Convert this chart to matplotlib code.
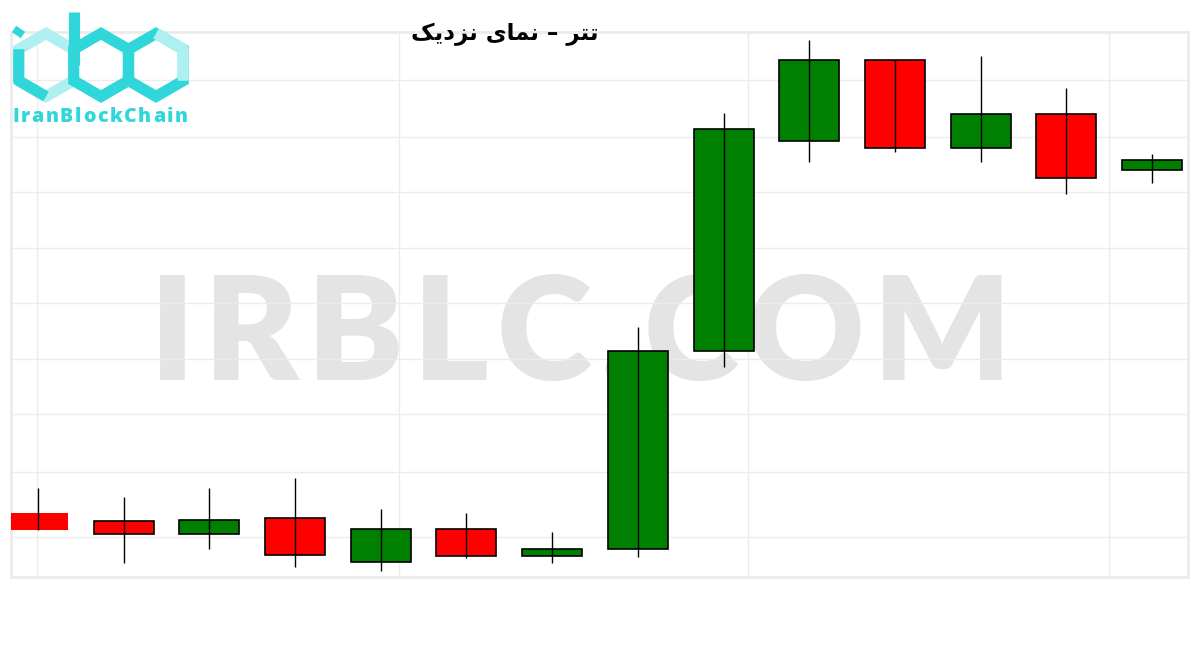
import numpy as np
import matplotlib.pyplot as plt
from matplotlib.patches import Polygon

# candle data (arbitrary price units)
opens  = [64, 56, 43, 59, 15, 48, 21, 28, 226, 436, 517, 429, 463, 407]
highs  = [89, 80, 89, 99, 68, 64, 45, 250, 464, 537, 517, 521, 489, 423]
lows   = [47, 14, 28, 10, 6, 19, 14, 20, 210, 415, 425, 415, 383, 394]
closes = [47, 43, 57, 22, 48, 21, 28, 226, 448, 517, 429, 463, 399, 417]

# grid positions
ygrid = [497, 440, 385, 329, 274, 218, 163, 105, 40]
xgrid = [-0.01, 4.21, 8.28, 12.5]

# title is Persian: "تتر – نمای نزدیک", written in presentation forms and
# visual order because matplotlib does no arabic shaping
title = "\uFB8F\uFBFE\uFEA9\uFEB0\uFEE7 \uFBFC\uFE8E\uFEE4\uFEE7 \u2013 \uFEAE\uFE98\uFE97"

CYAN = '#30d7da'
LIGHT = '#aeeff1'

fig = plt.figure(figsize=(12, 6.5), dpi=100)
ax = fig.add_axes([11/1200, 73/650, 1177/1200, 545/650])

# overlay in pixel coords for logo / watermark
lg = fig.add_axes([0, 0, 1, 1], zorder=10)
lg.set_xlim(0, 1200)
lg.set_ylim(650, 0)
lg.axis('off')

x = np.arange(len(opens))
o = np.array(opens)
c = np.array(closes)
up = c >= o
cols = np.where(up, '#008000', '#ff0000')

ax.vlines(x, lows, highs, color='black', lw=1, zorder=4)
bars = ax.bar(x, np.abs(c - o), bottom=np.minimum(o, c), width=0.7,
              color=cols, edgecolor='black', linewidth=1.2, zorder=3)
bars[0].set_linewidth(0)

ax.set_xlim(-0.315, 13.42)
ax.set_ylim(0, 545)
ax.set_yticks(ygrid)
ax.set_xticks(xgrid)
ax.set_axisbelow(True)
ax.grid(True, color='#ececec', lw=1)
ax.tick_params(length=0, labelleft=False, labelbottom=False)
for s in ax.spines.values():
    s.set_color('#ebebeb')
    s.set_linewidth(2)

renderer = fig.canvas.get_renderer()

def spaced_text(host, s, x0, x1, y, **kw):
    ts = [host.text(0, y, ch, transform=lg.transData, ha='left',
                    va='baseline', **kw) for ch in s]
    w = [t.get_window_extent(renderer).width for t in ts]
    gap = (x1 - x0 - sum(w)) / (len(s) - 1)
    pos = x0
    for t, wi in zip(ts, w):
        t.set_x(pos)
        pos += wi + gap

# watermark
spaced_text(ax, 'IRBLC.COM', 150, 1012, 380, fontsize=104, family='Lato',
            weight='heavy', color='#e4e4e4', zorder=0.1)

fig.text(505/1200, 1 - 34/650, title, ha='center', va='center',
         fontsize=16.5, weight='bold', family='DejaVu Sans')

# logo
def hexagon(cx, cy, r):
    ang = np.deg2rad(np.arange(-90, 270, 60))
    return np.c_[cx + r*np.cos(ang), cy + r*np.sin(ang)]

r = 31.5
lw = 8
for cx, col in [(46, LIGHT), (101, CYAN), (156, CYAN)]:
    lg.add_patch(Polygon(hexagon(cx, 65, r), closed=True, fill=False,
                         ec=col, lw=lw, joinstyle='miter'))
h1 = hexagon(46, 65, r)
lg.plot(h1[[3, 4, 5], 0], h1[[3, 4, 5], 1], color=CYAN, lw=lw,
        solid_capstyle='butt')
h3 = hexagon(156, 65, r)
lg.plot(h3[[0, 1, 2], 0], h3[[0, 1, 2], 1], color=LIGHT, lw=lw,
        solid_capstyle='butt')
lg.plot([101 - r*np.cos(np.pi/6)] * 2, [12, 65], color=CYAN, lw=lw,
        solid_capstyle='butt')
lg.plot([14, 23], [29, 35], color=CYAN, lw=5.5, solid_capstyle='butt')
spaced_text(lg, 'IranBlockChain', 12, 188, 122, fontsize=14,
            weight='heavy', family='Open Sans', color=CYAN)

fig.savefig('out.png', dpi=100)
